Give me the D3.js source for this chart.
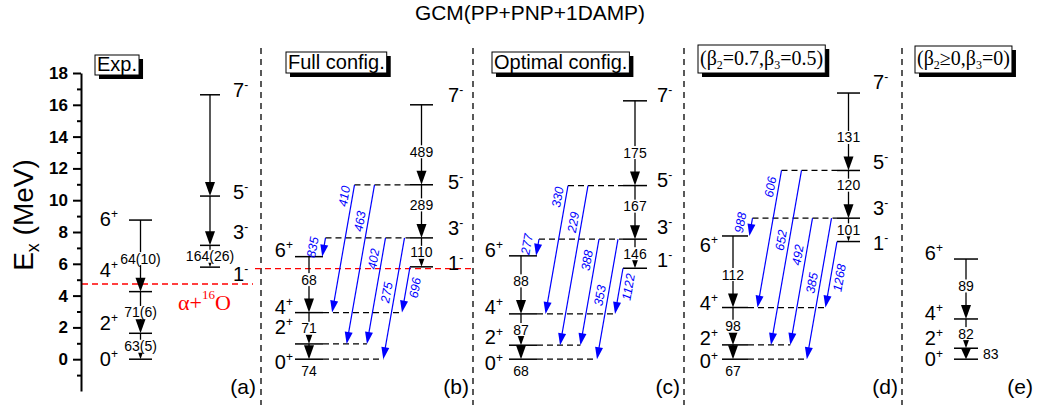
<!DOCTYPE html>
<html>
<head>
<meta charset="utf-8">
<script src="https://cdn.jsdelivr.net/npm/d3@7"></script>
<style>
body{margin:0;background:#fff}
svg{font-family:Arial,"Liberation Sans",sans-serif;display:block}
</style>
</head>
<body>
<svg width="1060" height="409"></svg>
<script>
let svg = d3.select('svg')

// level energies in MeV, order 0+,2+,4+,6+ / 1-,3-,5-,7-
let spinsPos = ['0+','2+','4+','6+']
let spinsNeg = ['1-','3-','5-','7-']
let expPos = [0, 1.63, 4.25, 8.75]
let expNeg = [5.79, 7.16, 10.26, 16.63]
let fullPos = [0, 0.96, 2.93, 6.45]
let fullNeg = [5.81, 7.63, 10.97, 16.0]
let optPos = [0, 0.88, 2.85, 6.5]
let optNeg = [5.72, 7.55, 10.92, 16.25]
let fixPos = [0, 0.9, 3.25, 7.75]
let fixNeg = [7.4, 8.87, 11.87, 16.74]
let quadPos = [0, 0.69, 2.53, 6.3]

// alpha+16O thresholds
let thrExp = 4.73
let thrFull = 5.7

// in-band B(E2), order 2->0, 4->2, 6->4 / 3->1, 5->3, 7->5
let be2ExpPos = ['63(5)', '71(6)', '64(10)']
let be2ExpNeg = ['164(26)', '', '']
let be2FullPos = ['74', '71', '68']
let be2FullNeg = ['110', '289', '489']
let be2OptPos = ['68', '87', '88']
let be2OptNeg = ['146', '167', '175']
let be2FixPos = ['67', '98', '112']
let be2FixNeg = ['101', '120', '131']
let be2QuadPos = ['83', '82', '89']

// inter-band transitions
let crossPairs = [['3-','6+'], ['5-','4+'], ['5-','2+'], ['3-','2+'], ['3-','0+'], ['1-','4+']]
let crossFull = ['835', '410', '463', '402', '275', '696']
let crossOpt = ['277', '330', '229', '388', '353', '1122']
let crossFix = ['988', '606', '652', '492', '385', '1268']

let yTicks = [0, 2, 4, 6, 8, 10, 12, 14, 16, 18]
let yMinor = [-1, 1, 3, 5, 7, 9, 11, 13, 15, 17]
let panelIds = ['a', 'b', 'c', 'd', 'e']

let y = d3.scaleLinear().domain([-2, 18]).range([391, 73])
let panelX = d3.scaleOrdinal().domain(panelIds).range([80, 261, 473, 684, 902])
let dividers = [261, 473, 684, 902]

let panels = [
  {id:'a', pos:expPos, neg:expNeg, bPos:be2ExpPos, bNeg:be2ExpNeg, cross:null,
   posC:60.5, negC:130, posW:11.5, negW:10, posGap:11, negGap:13,
   posNudge:[0,-10,-22,-1], negNudge:[7,-13,-4,-5], first:'mid',
   thr:thrExp, thrX:[2,173], tag:'(a)', tagX:256},
  {id:'b', pos:fullPos, neg:fullNeg, bPos:be2FullPos, bNeg:be2FullNeg, cross:crossFull,
   posC:48, negC:160.5, posW:14, negW:11.5, posGap:2, negGap:15,
   posNudge:[3,-17,-6,-7], negNudge:[-4,-10,-3,-10], first:'below',
   t:[0.5,0.09,0.23,0.2,0.45,0.46], thr:thrFull, thrX:[-6,211], tag:'(b)', tagX:469},
  {id:'c', pos:optPos, neg:optNeg, bPos:be2OptPos, bNeg:be2OptNeg, cross:crossOpt,
   posC:50, negC:162, posW:14, negW:12, posGap:6, negGap:10,
   posNudge:[4,-8,-7,-6], negNudge:[-8,-12,-6,-6], first:'below',
   t:[0.3,0.09,0.23,0.2,0.47,0.41], tag:'(c)', tagX:680},
  {id:'d', pos:fixPos, neg:fixNeg, bPos:be2FixPos, bNeg:be2FixNeg, cross:crossFix,
   posC:51, negC:164.5, posW:13, negW:11.5, posGap:4, negGap:13,
   posNudge:[2,-7,-5,9], negNudge:[1,-10,-8,-11], first:'below',
   t:[0.25,0.12,0.4,0.29,0.46,0.55], tag:'(d)', tagX:898},
  {id:'e', pos:quadPos, neg:null, bPos:be2QuadPos, bNeg:null, cross:null,
   posC:64, posW:12, posGap:11, posNudge:[0,-10,-6,-6], first:'right', tag:'(e)', tagX:1033}
]

let laneOff = [-96, -67, -47, -36, -17]
let slant = 0.175

let gRef = svg.append('g')
let gLev = svg.append('g')
let gArr = svg.append('g')
let gTxt = svg.append('g')

// title
svg.append('text').attr('x', 530).attr('y', 20).attr('text-anchor', 'middle')
  .attr('font-size', 21).attr('textLength', 230).attr('lengthAdjust', 'spacingAndGlyphs')
  .text('GCM(PP+PNP+1DAMP)')

// y axis
let yAxis = d3.axisLeft(y).tickValues(yTicks).tickSize(8).tickPadding(5).tickSizeOuter(0).tickFormat(d3.format('d'))
let ax = svg.append('g').attr('transform', 'translate(81,0)').call(yAxis)
ax.select('.domain').attr('stroke-width', 2)
ax.selectAll('.tick line').attr('stroke-width', 2)
ax.selectAll('.tick text').attr('font-size', 17).attr('font-weight', 'bold').attr('font-family', 'Arial, Liberation Sans, sans-serif')
let axm = svg.append('g').attr('transform', 'translate(81,0)')
  .call(d3.axisLeft(y).tickValues(yMinor).tickSize(4).tickFormat(''))
axm.select('.domain').remove()
axm.selectAll('.tick line').attr('stroke-width', 2)

let yt = svg.append('text').attr('transform', 'translate(33,215) rotate(-90)').attr('text-anchor', 'middle').attr('font-size', 28)
yt.append('tspan').text('E')
yt.append('tspan').attr('font-size', 18).attr('dy', 6).text('x')
yt.append('tspan').attr('dy', -6).text(' (MeV)')

// dividers
dividers.forEach(x => {
  gRef.append('line').attr('x1', x).attr('x2', x).attr('y1', 48).attr('y2', 405)
    .attr('stroke', '#000').attr('stroke-width', 1.3).attr('stroke-dasharray', '6,5')
})

// boxes
let boxes = [
  {x:95, top:55, h:20, base:71, font:'Arial, Liberation Sans, sans-serif', parts:[['Exp.',0]]},
  {x:286, top:52, h:21, base:69, font:'Arial, Liberation Sans, sans-serif', parts:[['Full config.',0]]},
  {x:492, top:52, h:21, base:69, font:'Arial, Liberation Sans, sans-serif', parts:[['Optimal config.',0]]},
  {x:698, top:45, h:28, base:65, font:'Liberation Serif, Times New Roman, serif', parts:[['(β',0],['2',1],['=0.7,β',0],['3',1],['=0.5)',0]]},
  {x:915, top:46, h:27, base:65, font:'Liberation Serif, Times New Roman, serif', parts:[['(β',0],['2',1],['≥0,β',0],['3',1],['=0)',0]]}
]
boxes.forEach(b => {
  let g = svg.append('g')
  let t = g.append('text').attr('x', b.x + 2).attr('y', b.base).attr('font-size', 20).attr('font-family', b.font)
  let sub = 0
  b.parts.forEach(p => {
    let s = t.append('tspan').text(p[0])
    if (p[1] && !sub) { s.attr('font-size', 12).attr('dy', 4); sub = 1 }
    else if (!p[1] && sub) { s.attr('dy', -4); sub = 0 }
  })
  let w = t.node().getComputedTextLength() + 4
  g.insert('rect', 'text').attr('x', b.x + 4).attr('y', b.top + 4).attr('width', w).attr('height', b.h).attr('fill', '#000')
  g.insert('rect', 'text').attr('x', b.x).attr('y', b.top).attr('width', w).attr('height', b.h)
    .attr('fill', '#fff').attr('stroke', '#000').attr('stroke-width', 1)
})

let bgLabel = (x, yy, txt, anchor) => {
  let g = gTxt.append('g')
  let t = g.append('text').attr('x', x).attr('y', yy + 5).attr('text-anchor', anchor || 'middle').attr('font-size', 14).text(txt)
  let b = t.node().getBBox()
  g.insert('rect', 'text').attr('x', b.x - 1).attr('y', b.y + 1.5).attr('width', b.width + 2).attr('height', b.height - 3).attr('fill', '#fff')
}

let spinLabel = (x, yy, spin, anchor) => {
  let t = gTxt.append('text').attr('x', x).attr('y', yy + 7).attr('text-anchor', anchor).attr('font-size', 20)
  t.append('tspan').text(spin[0])
  t.append('tspan').attr('font-size', 12).attr('dy', -8).text(spin[1])
}

let drawPanel = (p) => {
  let ox = panelX(p.id)
  let lv = {}
  let xp = ox + p.posC
  spinsPos.forEach((s, i) => { lv[s] = {y: y(p.pos[i]), x0: xp - p.posW, x1: xp + p.posW, xc: xp, ext: xp + p.posW} })
  let xn = ox + p.negC
  if (p.neg) spinsNeg.forEach((s, i) => { lv[s] = {y: y(p.neg[i]), x0: xn - p.negW, x1: xn + p.negW, xc: xn, ext: xn - p.negW} })

  // threshold
  if (p.thr !== undefined) {
    gRef.append('line').attr('x1', ox + p.thrX[0]).attr('x2', ox + p.thrX[1]).attr('y1', y(p.thr)).attr('y2', y(p.thr))
      .attr('stroke', '#ff0000').attr('stroke-width', 1.3).attr('stroke-dasharray', '6,4')
  }

  // inter-band arrows
  if (p.cross) {
    crossPairs.forEach((pr, i) => {
      let a = lv[pr[0]], b = lv[pr[1]]
      let xs = i < 5 ? xn + laneOff[i] : a.x0
      let xe = xs - slant * (b.y - a.y)
      a.ext = Math.min(a.ext, xs)
      b.ext = Math.max(b.ext, xe)
      let dx = xe - xs, dy = b.y - a.y, L = Math.hypot(dx, dy)
      let ux = dx / L, uy = dy / L, h = 12, w = 4
      let bx = xe - ux * h, by = b.y - uy * h
      gArr.append('line').attr('x1', xs).attr('y1', a.y).attr('x2', bx + ux).attr('y2', by + uy)
        .attr('stroke', '#0000ff').attr('stroke-width', 1.2)
      gArr.append('path').attr('d', `M${xe},${b.y}L${bx - uy * w},${by + ux * w}L${bx + uy * w},${by - ux * w}Z`).attr('fill', '#0000ff')
      let tt = p.t[i]
      let lx = xs + dx * tt + (i === 0 ? -11 : i === 5 ? 9 : -8)
      let ly = a.y + dy * tt
      let ang = Math.atan2(-dy, -dx) * 180 / Math.PI
      gTxt.append('text').attr('x', lx).attr('y', ly).attr('transform', `rotate(${ang},${lx},${ly})`)
        .attr('text-anchor', 'middle').attr('dominant-baseline', 'central')
        .attr('font-size', 12.5).attr('font-style', 'italic').attr('fill', '#0000ff').text(p.cross[i])
    })
  }

  // levels and dashed extensions
  Object.keys(lv).forEach(k => {
    let l = lv[k]
    gLev.append('line').attr('x1', l.x0).attr('x2', l.x1).attr('y1', l.y).attr('y2', l.y).attr('stroke', '#000').attr('stroke-width', 1.5)
    let e0 = null
    if (l.ext < l.x0 - 2) e0 = [l.ext, l.x0]
    if (l.ext > l.x1 + 2) e0 = [l.x1, l.ext]
    if (e0) gLev.append('line').attr('x1', e0[0]).attr('x2', e0[1]).attr('y1', l.y).attr('y2', l.y)
      .attr('stroke', '#000').attr('stroke-width', 1.3).attr('stroke-dasharray', '6,4')
  })

  // in-band arrows
  let band = (spins, labels, xc, isPos) => {
    for (let i = 0; i < spins.length - 1; i++) {
      let lo = lv[spins[i]], hi = lv[spins[i + 1]]
      let gap = lo.y - hi.y
      let h = Math.min(14, gap)
      gArr.append('line').attr('x1', xc).attr('x2', xc).attr('y1', hi.y).attr('y2', lo.y - h + 1).attr('stroke', '#000').attr('stroke-width', 1.3)
      gArr.append('path').attr('d', `M${xc},${lo.y}L${xc - 5},${lo.y - h}L${xc + 5},${lo.y - h}Z`).attr('fill', '#000')
      if (labels[i] === '') continue
      if (isPos && i === 0 && p.first === 'below') bgLabel(xc, lo.y + 12, labels[i])
      else if (isPos && i === 0 && p.first === 'right') bgLabel(lo.x1 + 5, (lo.y + hi.y) / 2, labels[i], 'start')
      else bgLabel(xc, gap > 45 ? lo.y - 33 : (lo.y + hi.y) / 2, labels[i])
    }
  }
  band(spinsPos, p.bPos, xp - (p.id === 'c' || p.id === 'd' ? 2 : 0), true)
  if (p.neg) band(spinsNeg, p.bNeg, xn, false)

  // spin labels
  spinsPos.forEach((s, i) => spinLabel(lv[s].x0 - p.posGap, lv[s].y + p.posNudge[i], s, 'end'))
  if (p.neg) spinsNeg.forEach((s, i) => spinLabel(lv[s].x1 + p.negGap, lv[s].y + p.negNudge[i], s, 'start'))

  gTxt.append('text').attr('x', p.tagX).attr('y', 394).attr('text-anchor', 'end').attr('font-size', 21).text(p.tag)
}

panels.forEach(drawPanel)

// threshold label
let al = gTxt.append('text').attr('x', 178).attr('y', 310).attr('fill', '#ff0000')
  .attr('font-family', 'Liberation Serif, Times New Roman, serif').attr('font-size', 22)
al.append('tspan').text('α+')
al.append('tspan').attr('font-size', 13).attr('dy', -11).text('16')
al.append('tspan').attr('dy', 11).text('O')
</script>
</body>
</html>
